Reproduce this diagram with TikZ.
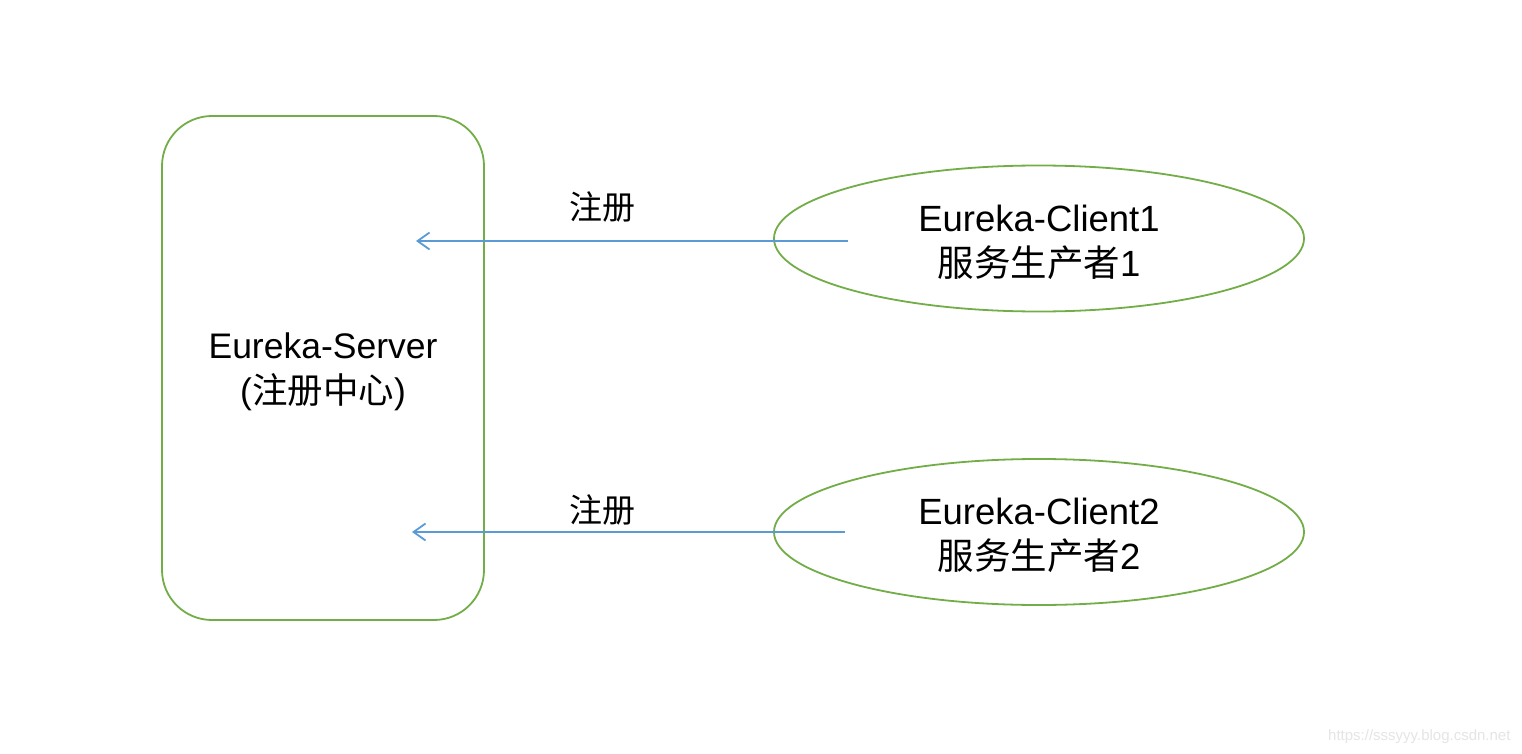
\documentclass[tikz,border=0pt]{standalone}
\usepackage{fontspec}
\setmainfont{Liberation Sans}
\newfontfamily\cjk{Noto Sans CJK SC}
\usetikzlibrary{arrows.meta,shapes.geometric}
\definecolor{boxgreen}{HTML}{72AD48}
\definecolor{arrowblue}{HTML}{5B9BD5}
\begin{document}
\begin{tikzpicture}[x=1pt,y=-1pt,
  greenline/.style={draw=boxgreen,line width=1.8pt},
  client/.style={greenline,ellipse,minimum width=530pt,minimum height=146pt,inner sep=0pt},
  clienttext/.style={align=center,font=\fontsize{36.5}{45}\selectfont},
  reg/.style={draw=arrowblue,line width=1.8pt,-{Straight Barb[length=12pt,width=17pt,line width=1.8pt]}},
  lbl/.style={font=\cjk\fontsize{33}{40}\selectfont}]
\useasboundingbox[fill=white] (0,0) rectangle (1522,754);
\node[greenline,rounded corners=50pt,minimum width=322pt,minimum height=504pt,inner sep=0pt] (server) at (323,368) {};
\node[align=center,font=\fontsize{35.5}{45}\selectfont] (servertext) at (323,372) {Eureka-Server\\({\cjk 注册中心})};
\node[client] (c1) at (1039,238.5) {};
\node[client] (c2) at (1039,532) {};
\node[clienttext] (t1) at (1039,242) {Eureka-Client1\\{\cjk 服务生产者}1};
\node[clienttext] (t2) at (1039,535) {Eureka-Client2\\{\cjk 服务生产者}2};
\coordinate (s1) at (848,241);
\coordinate (e1) at (416,241);
\coordinate (s2) at (845,532);
\coordinate (e2) at (412,532);
\draw[reg] (s1) -- (e1);
\draw[reg] (s2) -- (e2);
\node[lbl] (l1) at (602,207) {注册};
\node[lbl] (l2) at (602,510) {注册};
\node[text=black!10,font=\fontsize{15}{18}\selectfont,anchor=east] (wm) at (1514,737) {https://sssyyy.blog.csdn.net};
\end{tikzpicture}
\end{document}
